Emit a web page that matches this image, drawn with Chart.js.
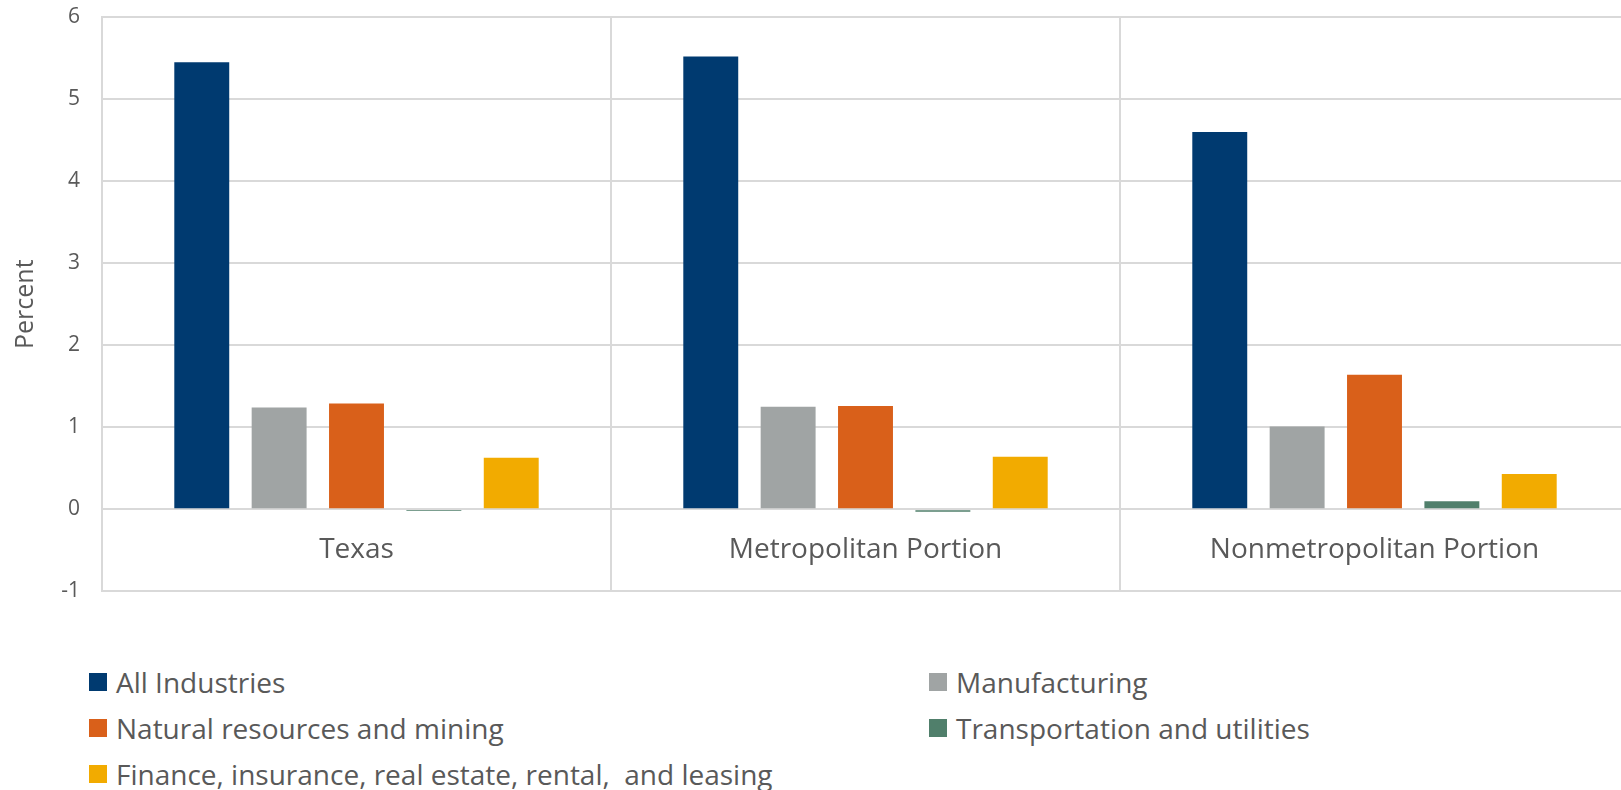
<!DOCTYPE html>
<html>
<head>
<meta charset="utf-8">
<script src="https://cdn.jsdelivr.net/npm/chart.js@4"></script>
<style>
	html, body {
		margin: 0;
		padding: 0;
		background: #ffffff;
		overflow: hidden;
		width: 1621px;
		height: 790px;
		font-family: "Open Sans", sans-serif;
	}
	#chart-wrap {
		position: absolute;
		left: 0;
		top: 0;
		width: 1640px;
		height: 604px;
	}
	#legend {
		position: absolute;
		left: 89px;
		top: 659px;
		display: grid;
		grid-template-columns: 840px 700px;
		grid-auto-rows: 46px;
	}
	.legend-item {
		display: flex;
		align-items: center;
		font-size: 28px;
		color: #595959;
		white-space: pre;
	}
	.legend-box {
		width: 18px;
		height: 18px;
		margin-right: 9px;
		flex-shrink: 0;
	}
</style>
</head>
<body>
<div id="chart-wrap"><canvas id="chart"></canvas></div>
<div id="legend"></div>
<script>
const categories = ["Texas", "Metropolitan Portion", "Nonmetropolitan Portion"];

const seriesNames = [
	"All Industries",
	"Manufacturing",
	"Natural resources and mining",
	"Transportation and utilities",
	"Finance, insurance, real estate, rental,  and leasing",
];

const allIndustries = [5.45, 5.52, 4.6];
const manufacturing = [1.24, 1.25, 1.01];
const naturalResources = [1.29, 1.26, 1.64];
const transportation = [-0.02, -0.03, 0.1];
const finance = [0.63, 0.64, 0.43];

const yMin = -1;
const yMax = 6;
const yStep = 1;

const colors = ["#003a70", "#a0a4a4", "#d9601a", "#507f6b", "#f2ab00"];
const gridColor = "#d9d9d9";
const textColor = "#595959";

const seriesValues = [allIndustries, manufacturing, naturalResources, transportation, finance];

// category names sit just under the zero line, like the original
const categoryLabels = {
	id: "categoryLabels",
	afterDraw(chart) {
		const ctx = chart.ctx;
		const x = chart.scales.x;
		const y = chart.scales.y;
		const mid = (y.getPixelForValue(0) + chart.chartArea.bottom) / 2;
		ctx.save();
		ctx.font = '28px "Open Sans"';
		ctx.fillStyle = textColor;
		ctx.textAlign = "center";
		ctx.textBaseline = "middle";
		categories.forEach((name, i) => {
			ctx.fillText(name, x.getPixelForValue(i), mid);
		});
		ctx.restore();
	},
};

const ctx = document.getElementById("chart").getContext("2d");
new Chart(ctx, {
	type: "bar",
	data: {
		labels: categories,
		datasets: seriesNames.map((name, i) => ({
			label: name,
			data: seriesValues[i],
			backgroundColor: colors[i],
			borderWidth: 0,
			categoryPercentage: 0.76,
			barPercentage: 0.71,
		})),
	},
	options: {
		responsive: true,
		maintainAspectRatio: false,
		animation: false,
		layout: {
			padding: { top: 17, right: 11, bottom: 0, left: 0 },
		},
		plugins: {
			legend: { display: false },
			tooltip: { enabled: false },
		},
		scales: {
			x: {
				grid: {
					color: gridColor,
					lineWidth: 2,
					offset: true,
					drawTicks: false,
				},
				border: { display: false },
				ticks: { display: false },
			},
			y: {
				min: yMin,
				max: yMax,
				afterFit(scale) {
					scale.width = 102;
				},
				ticks: {
					stepSize: yStep,
					padding: 0,
					color: textColor,
					font: { family: "Open Sans", size: 21 },
				},
				grid: {
					color: gridColor,
					lineWidth: 2,
					// invisible tick marks push the labels away from the axis
					drawTicks: true,
					tickLength: 22,
					tickColor: "rgba(0, 0, 0, 0)",
				},
				border: { color: gridColor, width: 2 },
				title: {
					display: true,
					text: "Percent",
					color: textColor,
					font: { family: "Open Sans", size: 25 },
					padding: { top: 11, bottom: 0 },
				},
			},
		},
	},
	plugins: [categoryLabels],
});

// legend in two columns, filled row by row
const legend = document.getElementById("legend");
seriesNames.forEach((name, i) => {
	const item = document.createElement("div");
	item.className = "legend-item";
	item.innerHTML = `<span class="legend-box" style="background:${colors[i]}"></span><span>${name}</span>`;
	legend.appendChild(item);
});
</script>
</body>
</html>
